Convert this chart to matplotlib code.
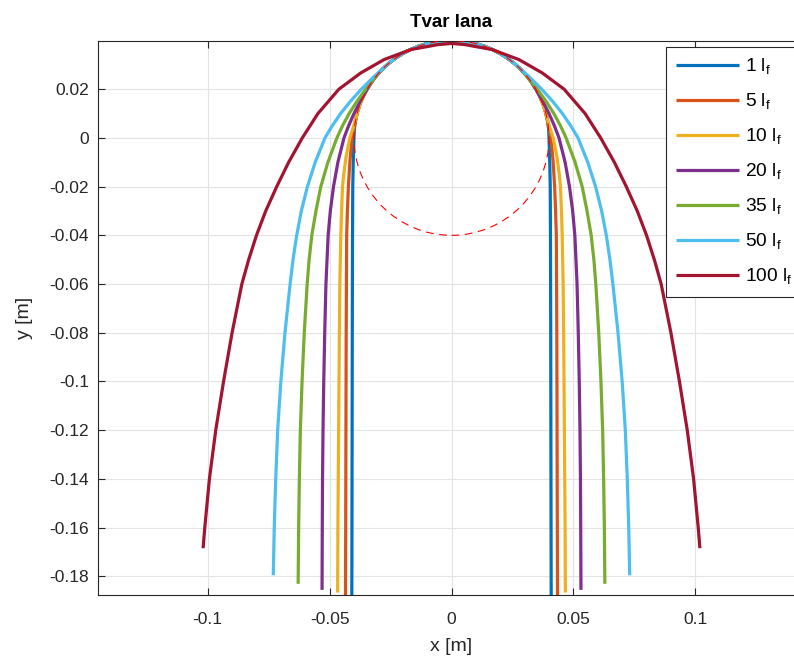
"""Tvar lana - lano prehozene pres kladku pro ruzne delky."""

import numpy as np
import matplotlib.pyplot as plt
from matplotlib.patches import Circle

plt.rcParams['font.family'] = ['Liberation Sans', 'DejaVu Sans']

labels = ['1 l$_\\mathregular{f}$', '5 l$_\\mathregular{f}$', '10 l$_\\mathregular{f}$',
          '20 l$_\\mathregular{f}$', '35 l$_\\mathregular{f}$', '50 l$_\\mathregular{f}$',
          '100 l$_\\mathregular{f}$']
colors = ['#0072BD', '#D95319', '#EDB120', '#7E2F8E', '#77AC30', '#4DBEEE', '#A2142F']

pulley_r = 0.04

# body na obvodu kladky (po 5°, od 180° k vrcholu 90°)
arc_x = [-0.04000, -0.03985, -0.03939, -0.03864, -0.03759, -0.03625, -0.03464,
         -0.03277, -0.03064, -0.02828, -0.02571, -0.02294, -0.02000, -0.01690,
         -0.01368, -0.01035, -0.00695, -0.00349, 0.0]
arc_y = [0.00000, 0.00349, 0.00695, 0.01035, 0.01368, 0.01690, 0.02000,
         0.02294, 0.02571, 0.02828, 0.03064, 0.03277, 0.03464, 0.03625,
         0.03759, 0.03864, 0.03939, 0.03985, 0.04]

# volne visici cast leve poloviny (od spodniho konce nahoru), pak oblouk od bodu odpojeni
x_1 = [-0.0409, -0.0408, -0.0407, -0.0406, -0.0405, -0.0403]
y_1 = [-0.1950, -0.1400, -0.0800, -0.0400, -0.0200, -0.0100]
arc_1 = 0   # index bodu odpojeni na oblouku

x_5 = [-0.0435, -0.0434, -0.0433, -0.0432, -0.0430, -0.0427, -0.0423, -0.0417, -0.0408]
y_5 = [-0.1950, -0.1600, -0.1200, -0.0800, -0.0400, -0.0300, -0.0200, -0.0100, 0.0000]
arc_5 = 2

x_10 = [-0.0467, -0.0466, -0.0463, -0.0460, -0.0458, -0.0454, -0.0451, -0.0447,
        -0.0442, -0.0433, -0.0417, -0.0401]
y_10 = [-0.1867, -0.1600, -0.1200, -0.0800, -0.0600, -0.0400, -0.0300, -0.0200,
        -0.0150, -0.0080, 0.0000, 0.0050]
arc_10 = 3

x_20 = [-0.0531, -0.0530, -0.0529, -0.0527, -0.0524, -0.0520, -0.0515, -0.0506,
        -0.0497, -0.0484, -0.0466, -0.0441, -0.0422, -0.0400, -0.0377]
y_20 = [-0.1856, -0.1600, -0.1400, -0.1200, -0.1000, -0.0800, -0.0600, -0.0400,
        -0.0300, -0.0200, -0.0100, 0.0000, 0.0050, 0.0100, 0.0145]
arc_20 = 6

x_35 = [-0.0629, -0.0627, -0.0624, -0.0620, -0.0613, -0.0604, -0.0592, -0.0584,
        -0.0573, -0.0556, -0.0536, -0.0507, -0.0470, -0.0447, -0.0420, -0.0388, -0.0352]
y_35 = [-0.1831, -0.1600, -0.1400, -0.1200, -0.1000, -0.0800, -0.0600, -0.0500,
        -0.0400, -0.0300, -0.0200, -0.0100, 0.0000, 0.0050, 0.0100, 0.0150, 0.0200]
arc_35 = 8

x_50 = [-0.0731, -0.0727, -0.0721, -0.0713, -0.0700, -0.0683, -0.0662, -0.0650,
        -0.0635, -0.0616, -0.0591, -0.0559, -0.0519, -0.0489, -0.0455, -0.0415,
        -0.0370, -0.0320]
y_50 = [-0.1796, -0.1600, -0.1400, -0.1200, -0.1000, -0.0800, -0.0600, -0.0500,
        -0.0400, -0.0300, -0.0200, -0.0100, 0.0000, 0.0050, 0.0100, 0.0150,
        0.0200, 0.0250]
arc_50 = 10

x_100 = [-0.1019, -0.1012, -0.0993, -0.0967, -0.0935, -0.0900, -0.0860, -0.0832,
         -0.0800, -0.0762, -0.0717, -0.0668, -0.0612, -0.0548, -0.0462, -0.0372,
         -0.0276, -0.0166, -0.0056, 0.0]
y_100 = [-0.1685, -0.1600, -0.1400, -0.1200, -0.1000, -0.0800, -0.0600, -0.0500,
         -0.0400, -0.0300, -0.0200, -0.0100, 0.0000, 0.0100, 0.0200, 0.0267,
         0.0322, 0.0363, 0.0383, 0.0388]
arc_100 = None   # nejdelsi lano se kladky nedotyka

free_x = [x_1, x_5, x_10, x_20, x_35, x_50, x_100]
free_y = [y_1, y_5, y_10, y_20, y_35, y_50, y_100]
arc_start = [arc_1, arc_5, arc_10, arc_20, arc_35, arc_50, arc_100]

xticks = [-0.1, -0.05, 0, 0.05, 0.1]
xticklabels = ['-0.1', '-0.05', '0', '0.05', '0.1']
yticks = [-0.18, -0.16, -0.14, -0.12, -0.1, -0.08, -0.06, -0.04, -0.02, 0, 0.02]
yticklabels = ['-0.18', '-0.16', '-0.14', '-0.12', '-0.1', '-0.08', '-0.06',
               '-0.04', '-0.02', '0', '0.02']

fig = plt.figure(figsize=(7.94, 6.58), dpi=100)
ax = fig.add_axes([98 / 794, 1 - 595 / 658, 707 / 794, 554 / 658])

for fx, fy, a0, c, lab in zip(free_x, free_y, arc_start, colors, labels):
    hx = list(fx)
    hy = list(fy)
    if a0 is not None:
        hx += arc_x[a0:]
        hy += arc_y[a0:]
    hx = np.asarray(hx)
    hy = np.asarray(hy)
    # prava polovina = zrcadlo leve
    xs = np.concatenate([hx, -hx[::-1][1:]])
    ys = np.concatenate([hy, hy[::-1][1:]])
    ax.plot(xs, ys, color=c, linewidth=2.3, label=lab, solid_capstyle='butt',
            solid_joinstyle='round')

ax.add_patch(Circle((0, 0), pulley_r, fill=False, edgecolor='red', linestyle=(0, (7, 5)),
                    linewidth=0.8, zorder=5))

ax.set_xlim(-0.145, 0.145)
ax.set_ylim(-0.1877, 0.0398)
ax.set_xticks(xticks)
ax.set_xticklabels(xticklabels)
ax.set_yticks(yticks)
ax.set_yticklabels(yticklabels)
ax.tick_params(direction='in', length=5, width=0.8, colors='#262626', labelsize=12.5,
               top=True, right=True, labelcolor='#262626')
ax.tick_params(axis='x', pad=12)
ax.tick_params(axis='y', pad=6.5)
for s in ax.spines.values():
    s.set_color('#262626')
    s.set_linewidth(0.8)
ax.grid(True, color='#e3e3e3', linewidth=0.8)
ax.set_axisbelow(True)

ax.set_title('Tvar lana', fontsize=13.5, fontweight='bold', pad=10)
ax.set_xlabel('x [m]', fontsize=14, color='#262626', labelpad=8)
ax.set_ylabel('y [m]', fontsize=14, color='#262626', labelpad=12)

leg = ax.legend(loc='upper left', bbox_to_anchor=(0.8034, 0.9897), borderaxespad=0,
                fontsize=13.8, handlelength=3.33, handletextpad=0.3, borderpad=0.5,
                labelspacing=0.77, fancybox=False, framealpha=1, edgecolor='#262626')
leg.get_frame().set_linewidth(0.8)
leg.set_zorder(10)

plt.savefig('out.png', dpi=100)
plt.close()
